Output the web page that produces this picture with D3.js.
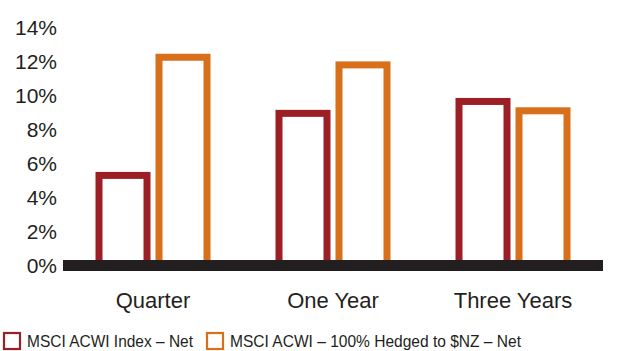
<!DOCTYPE html>
<html>
<head>
<meta charset="utf-8">
<script src="https://cdn.jsdelivr.net/npm/d3@7"></script>
<style>
  html, body { margin: 0; padding: 0; background: #fff; }
  svg { display: block; font-family: "Liberation Sans", Arial, sans-serif; }
</style>
</head>
<body>
<svg id="chart" width="630" height="351"></svg>
<script>
// Returns by period
const categories = ["Quarter", "One Year", "Three Years"];
const seriesNames = ["MSCI ACWI Index – Net", "MSCI ACWI – 100% Hedged to $NZ – Net"];
const acwiNet = [5.3, 8.95, 9.65];
const acwiHedged = [12.25, 11.8, 9.1];
const yTicks = [0, 2, 4, 6, 8, 10, 12, 14];
const colors = ["#9B1F24", "#D86F1A"];
const legendWidths = [166, 291];

const svg = d3.select("#chart");
const textColor = "#231F20";

const x = d3.scaleBand().domain(categories).range([63, 603]).padding(0);
const xSub = d3.scaleBand().domain(seriesNames).range([0, 120]);
const y = d3.scaleLinear().domain([0, 14]).range([265.5, 27.5]);

const rows = categories.map((c, i) => ({
  category: c,
  values: [
    { series: seriesNames[0], value: acwiNet[i], color: colors[0] },
    { series: seriesNames[1], value: acwiHedged[i], color: colors[1] }
  ]
}));

// Y axis labels
const yAxis = d3.axisLeft(y).tickValues(yTicks).tickSize(0).tickPadding(0)
  .tickFormat(d => d + "%");
const yg = svg.append("g").attr("transform", "translate(57,0)").call(yAxis);
yg.select(".domain").remove();
yg.selectAll("text")
  .attr("font-size", 21).attr("font-family", "Liberation Sans, Arial, sans-serif")
  .attr("fill", textColor).attr("x", 0).attr("dy", "0.34em");

// Outlined bars
const bw = xSub.bandwidth() * 0.8;
const groups = svg.append("g").selectAll("g").data(rows).join("g")
  .attr("transform", d => `translate(${x(d.category) + x.bandwidth() / 2 - 60},0)`);
groups.selectAll("rect").data(d => d.values).join("rect")
  .attr("x", d => xSub(d.series) + (xSub.bandwidth() - bw) / 2)
  .attr("width", bw)
  .attr("y", d => y(d.value))
  .attr("height", d => y(0) - y(d.value))
  .attr("fill", "#fff")
  .attr("stroke", d => d.color)
  .attr("stroke-width", 7);

// Thick baseline
svg.append("rect")
  .attr("x", x.range()[0]).attr("width", x.range()[1] - x.range()[0])
  .attr("y", y(0) - 5.5).attr("height", 11)
  .attr("fill", textColor);

// Category labels
const xAxis = d3.axisBottom(x).tickSize(0).tickPadding(0);
const xg = svg.append("g").call(xAxis);
xg.select(".domain").remove();
xg.selectAll("text")
  .attr("font-size", 22).attr("font-family", "Liberation Sans, Arial, sans-serif")
  .attr("fill", textColor).attr("y", 307.5).attr("dy", 0);

// Legend
const legendX = [3, 206];
const legend = svg.append("g").selectAll("g").data(seriesNames).join("g")
  .attr("transform", (d, i) => `translate(${legendX[i]},332)`);
legend.append("rect")
  .attr("x", 1).attr("y", 1).attr("width", 16).attr("height", 16)
  .attr("fill", "#fff")
  .attr("stroke", (d, i) => colors[i]).attr("stroke-width", 2.2);
legend.append("text")
  .attr("x", 24).attr("y", 15.3)
  .attr("font-size", 17).attr("fill", textColor)
  .attr("textLength", (d, i) => legendWidths[i])
  .attr("lengthAdjust", "spacingAndGlyphs")
  .text(d => d);
</script>
</body>
</html>
